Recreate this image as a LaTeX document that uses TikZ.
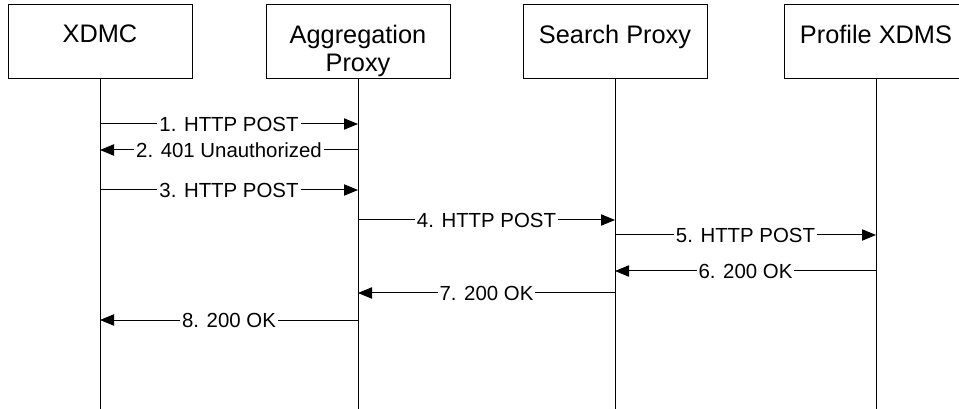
\documentclass[tikz,border=0pt]{standalone}
\usepackage{fontspec}
\setmainfont{Liberation Sans}
\usetikzlibrary{positioning,arrows.meta}

\begin{document}
\begin{tikzpicture}[
    x=0.75pt, y=-0.75pt,
    line width=0.75pt,
    box/.style={rectangle, draw, minimum width=138pt, minimum height=55.5pt, inner sep=0pt},
    head/.style={font=\fontsize{19}{21}\selectfont, align=center, inner sep=0pt},
    life/.style={draw},
    msg/.style={-{Triangle[length=10.5pt, width=8.5pt]}},
    lbl/.style={font=\fontsize{15.3}{18}\selectfont, fill=white, inner sep=1.5pt}
]
\useasboundingbox (0,0) rectangle (959,409);

% Entities
\node[box] (xdmcbox) at (100,42) {};
\node[head, below=15pt of xdmcbox.north] (xdmc) {XDMC};

\node[box] (aggbox) at (358,42) {};
\node[head, below=15pt of aggbox.north] (agg) {Aggregation\\Proxy};

\node[box] (searchbox) at (615,42) {};
\node[head, below=15pt of searchbox.north] (search) {Search Proxy};

\node[box] (profilebox) at (876,42) {};
\node[head, below=15pt of profilebox.north] (profile) {Profile XDMS};

% Lifelines
\coordinate (xdmcend) at (100,409);
\coordinate (aggend) at (358,409);
\coordinate (searchend) at (615,409);
\coordinate (profileend) at (876,409);
\draw[life] (xdmcbox.south) -- (xdmcend);
\draw[life] (aggbox.south) -- (aggend);
\draw[life] (searchbox.south) -- (searchend);
\draw[life] (profilebox.south) -- (profileend);

% Messages
\draw[msg] (xdmcbox |- 0,124) -- node[lbl] {1. HTTP POST} (aggbox |- 0,124);
\draw[msg] (aggbox |- 0,150) -- node[lbl] {2. 401 Unauthorized} (xdmcbox |- 0,150);
\draw[msg] (xdmcbox |- 0,190) -- node[lbl] {3. HTTP POST} (aggbox |- 0,190);
\draw[msg] (aggbox |- 0,220) -- node[lbl] {4. HTTP POST} (searchbox |- 0,220);
\draw[msg] (searchbox |- 0,235) -- node[lbl] {5. HTTP POST} (profilebox |- 0,235);
\draw[msg] (profilebox |- 0,271) -- node[lbl] {6. 200 OK} (searchbox |- 0,271);
\draw[msg] (searchbox |- 0,293) -- node[lbl] {7. 200 OK} (aggbox |- 0,293);
\draw[msg] (aggbox |- 0,320) -- node[lbl] {8. 200 OK} (xdmcbox |- 0,320);

\end{tikzpicture}
\end{document}
